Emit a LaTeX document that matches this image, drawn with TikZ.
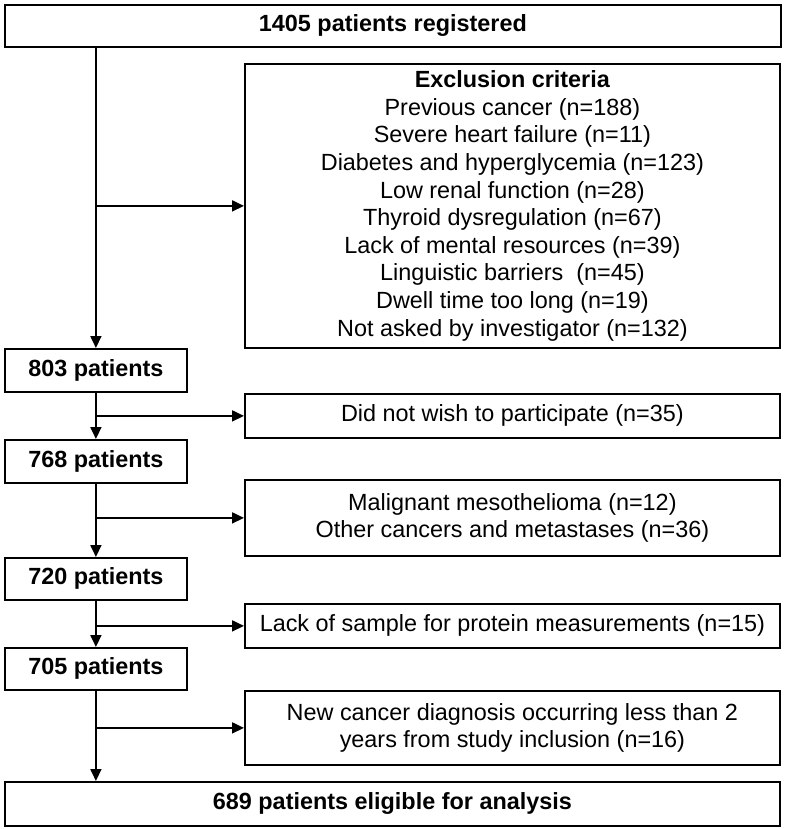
\documentclass[tikz,border=0pt]{standalone}
\usepackage{fontspec}
\setmainfont{Liberation Sans}
\usetikzlibrary{arrows.meta}
\begin{document}
\begin{tikzpicture}[x=1pt,y=-1pt,
  box/.style={draw,line width=1.8pt,anchor=north west,inner sep=0pt,align=center,
    font=\fontsize{23.4}{27.6}\selectfont},
  bbox/.style={box,font=\fontsize{23.4}{27.6}\selectfont\bfseries},
  arr/.style={line width=1.8pt,-{Triangle[length=12pt,width=11pt]}}]
\useasboundingbox (0,0) rectangle (785,829);
\node[bbox,minimum width=776pt,minimum height=42pt] (top) at (4,4) {1405 patients registered};
\node[box,minimum width=535pt,minimum height=284pt] (excl) at (244,63)
  {\textbf{Exclusion criteria}\\
   Previous cancer (n=188)\\
   Severe heart failure (n=11)\\
   Diabetes and hyperglycemia (n=123)\\
   Low renal function (n=28)\\
   Thyroid dysregulation (n=67)\\
   Lack of mental resources (n=39)\\
   Linguistic barriers\ \ (n=45)\\
   Dwell time too long (n=19)\\
   Not asked by investigator (n=132)};
\node[bbox,minimum width=182pt,minimum height=43pt] (p803) at (4,348) {803 patients};
\node[box,minimum width=535pt,minimum height=44pt] (dnw) at (244,393) {Did not wish to participate (n=35)};
\node[bbox,minimum width=182pt,minimum height=43pt] (p768) at (4,439) {768 patients};
\node[box,minimum width=535pt,minimum height=76pt] (mal) at (244,479) {Malignant mesothelioma (n=12)\\Other cancers and metastases (n=36)};
\node[bbox,minimum width=182pt,minimum height=42pt] (p720) at (4,557) {720 patients};
\node[box,minimum width=535pt,minimum height=44pt] (lack) at (244,603) {Lack of sample for protein measurements (n=15)};
\node[bbox,minimum width=182pt,minimum height=42pt] (p705) at (4,647) {705 patients};
\node[box,minimum width=535pt,minimum height=74pt] (newc) at (244,690) {New cancer diagnosis occurring less than 2\\years from study inclusion (n=16)};
\node[bbox,minimum width=775pt,minimum height=44pt] (fin) at (4,781) {689 patients eligible for analysis};

\draw[arr] (top.south -| p803) -- (p803.north);
\draw[arr] (excl.west -| p803) -- (excl.west);
\draw[arr] (p803.south) -- (p768.north);
\draw[arr] (dnw.west -| p803) -- (dnw.west);
\draw[arr] (p768.south) -- (p720.north);
\draw[arr] (mal.west -| p768) -- (mal.west);
\draw[arr] (p720.south) -- (p705.north);
\draw[arr] (lack.west -| p720) -- (lack.west);
\draw[arr] (p705.south) -- (fin.north -| p705);
\draw[arr] (newc.west -| p705) -- (newc.west);
\end{tikzpicture}
\end{document}
